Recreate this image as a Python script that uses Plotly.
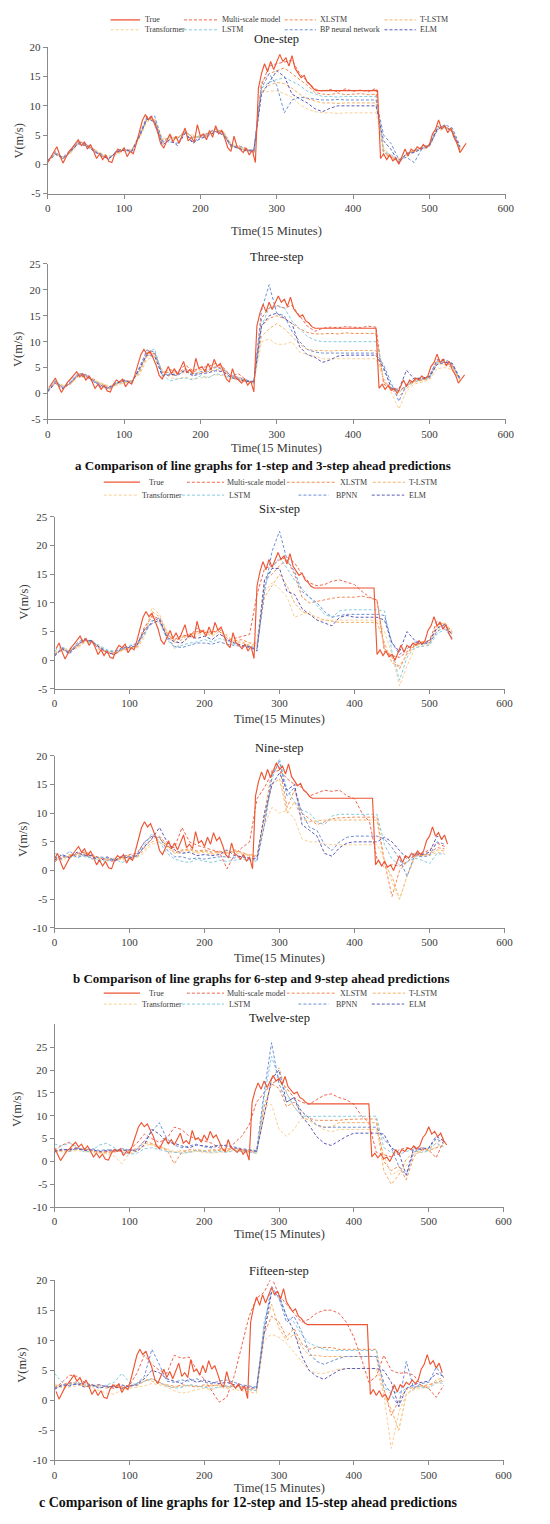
import plotly.graph_objects as go

W, H = 550, 1524
SERIF = "Liberation Serif"

# ---------------- data ----------------
SERIES_A = ["True", "Multi-scale model", "XLSTM", "T-LSTM",
            "Transformer", "LSTM", "BP neural network", "ELM"]
SERIES_BC = ["True", "Multi-scale model", "XLSTM", "T-LSTM",
             "Transformer", "LSTM", "BPNN", "ELM"]
PANEL_TITLES = ["One-step", "Three-step", "Six-step", "Nine-step", "Twelve-step", "Fifteen-step"]
CAPTIONS = ["a Comparison of line graphs for 1-step and 3-step ahead predictions",
            "b Comparison of line graphs for 6-step and 9-step ahead predictions",
            "c Comparison of line graphs for 12-step and 15-step ahead predictions"]
X_TITLE = "Time(15 Minutes)"
Y_TITLE = "V(m/s)"
X_TICKS = [0, 100, 200, 300, 400, 500, 600]
Y_TICKS = [[-5, 0, 5, 10, 15, 20],
           [-5, 0, 5, 10, 15, 20, 25],
           [-5, 0, 5, 10, 15, 20, 25],
           [-10, -5, 0, 5, 10, 15, 20],
           [-10, -5, 0, 5, 10, 15, 20, 25],
           [-10, -5, 0, 5, 10, 15, 20]]
Y_RANGES = [[-5, 20], [-5, 25], [-5, 25], [-10, 20], [-10, 30], [-10, 20]]

# true series (time index of the one-step panel, every 4 steps)
TRUE_T = list(range(0, 549, 4))
TRUE_V = [0.3, 1.2, 2.0, 3.0, 1.5, 0.2, 1.2, 2.2, 2.8, 3.5, 4.2, 3.2, 3.8, 2.6,
          3.4, 2.3, 1.0, 1.8, 0.8, 1.6, 0.5, 0.3, 1.8, 2.6, 2.2, 2.8, 1.3, 2.2,
          1.8, 3.5, 5.5, 7.5, 8.5, 7.6, 8.2, 7.0, 5.5, 3.5, 2.8, 4.0, 5.2, 3.8,
          4.8, 3.6, 5.0, 6.2, 4.0, 4.6, 3.8, 6.8, 4.8, 5.2, 4.2, 5.8, 4.6, 6.6,
          5.2, 5.8, 4.4, 2.8, 2.2, 4.8, 3.0, 2.6, 2.0, 2.8, 1.6, 2.4, 0.3, 13.0,
          15.5, 17.2, 15.8, 17.6, 16.2, 17.4, 18.8, 17.6, 18.2, 16.8, 18.6, 16.4, 15.6, 14.8,
          15.2, 14.0, 13.6, 12.9, 12.6,
          12.6, 12.6, 12.6, 12.6, 12.6, 12.6, 12.6, 12.6, 12.6, 12.6,
          12.6, 12.6, 12.6, 12.6, 12.6, 12.6, 12.6, 12.6, 12.6, 12.6,
          1.0, 1.8, 0.8, 1.6, 0.6, 1.0, 0.0, 1.4, 2.6, 1.4, 2.6, 2.2, 3.0, 2.6,
          3.4, 2.8, 3.4, 5.2, 6.0, 7.6, 6.0, 6.6, 5.4, 6.2, 4.6, 3.6, 2.0, 2.8, 3.6]
TRUE_SHIFT = [0, 2, 6, 8, 12, 14]
TRUE_END = [548, 546, 530, 527, 524, 521]

# predictions, every 10 steps
PRED_T = list(range(0, 541, 10))

P1_MULTI = [0.5,2.2,0.8,2.3,4.0,3.4,2.6,1.5,0.9,2.0,2.6,2.3,5.0,8.2,7.4,3.6,4.9,4.4,5.8,4.5,4.9,5.3,6.2,5.3,2.9,3.2,2.7,2.0,13.5,16.8,17.2,17.5,17.8,15.5,14.2,12.9,12.5,12.8,12.4,12.9,12.5,12.7,12.4,13.0,1.5,1.4,0.3,1.8,2.3,2.9,3.3,6.5,6.4,5.6,2.4]
P1_XLSTM = [0.4,2.0,0.9,2.2,3.8,3.5,2.4,1.6,1.0,1.9,2.5,2.4,4.8,7.9,7.6,3.9,4.6,4.5,5.6,4.6,4.7,5.4,6.0,5.5,3.1,3.0,2.6,2.1,14.0,15.5,16.0,16.5,15.5,14.5,13.5,12.3,12.0,11.9,12.2,11.9,12.0,12.1,11.9,12.0,2.0,1.2,0.5,1.6,2.4,2.8,3.4,6.2,6.5,5.8,2.6]
P1_TLSTM = [0.6,1.8,1.1,2.0,3.6,3.3,2.5,1.7,1.2,1.8,2.4,2.5,4.6,7.6,7.7,4.2,4.4,4.6,5.4,4.8,4.6,5.2,5.8,5.6,3.3,2.9,2.5,2.2,12.5,13.5,14.0,13.8,13.0,12.0,11.2,10.8,10.5,10.5,10.4,10.5,10.5,10.6,10.5,10.5,2.5,1.0,0.8,1.5,2.3,2.7,3.2,5.9,6.3,5.9,2.8]
P1_TRANSFORMER = [0.8,1.6,1.3,1.8,3.4,3.1,2.7,1.9,1.4,1.7,2.2,2.6,4.3,7.3,7.8,4.5,4.2,4.7,5.2,5.0,4.5,5.0,5.6,5.7,3.6,2.8,2.6,2.4,12.2,12.5,12.6,12.0,11.5,10.2,9.5,9.0,8.8,8.8,8.7,8.8,8.8,8.8,8.7,8.8,2.8,1.3,1.0,1.3,2.1,2.6,3.0,5.6,6.1,6.0,3.0]
P1_LSTM = [0.6,2.1,1.0,2.1,3.9,3.3,2.5,1.5,1.1,2.1,2.5,2.3,4.9,7.8,7.5,3.7,4.7,4.3,5.7,4.5,4.8,5.2,6.1,5.4,3.0,3.1,2.7,2.0,13.0,14.0,14.5,14.8,14.2,13.5,12.5,12.0,11.6,11.6,11.5,11.6,11.6,11.7,11.6,11.6,2.2,1.6,0.6,1.7,2.2,2.9,3.3,6.3,6.2,5.7,2.5]
P1_BP = [0.7,1.9,1.2,2.4,3.7,3.6,2.2,1.8,0.8,2.3,2.7,2.1,5.2,8.0,8.3,4.0,3.8,3.6,5.5,3.8,4.6,5.0,5.8,5.2,3.4,2.6,2.4,2.5,13.0,15.5,13.5,8.8,11.0,11.5,11.3,11.1,11.0,11.0,11.1,11.0,11.0,11.1,11.0,11.0,5.0,3.5,0.8,1.2,0.3,2.6,3.1,5.8,6.8,6.2,3.2]
P1_ELM = [0.4,1.7,1.0,2.2,3.5,3.2,2.3,1.4,1.0,2.1,2.4,2.2,4.7,7.7,7.3,3.3,4.2,3.2,5.3,3.6,4.4,4.8,5.6,5.0,3.2,2.7,2.3,2.3,12.0,14.0,16.0,15.0,12.0,11.2,10.5,9.5,9.0,9.6,10.0,10.0,10.0,10.0,10.0,10.0,4.0,2.5,0.2,1.9,2.0,2.7,3.2,6.0,6.6,5.5,2.9]

P2_MULTI = [0.4,2.4,1.0,2.0,3.8,3.6,2.8,1.6,0.8,1.8,2.6,2.2,4.6,8.0,7.6,4.0,4.6,4.2,5.5,4.4,5.0,5.2,5.8,5.0,3.4,3.8,2.6,2.0,14.5,16.5,17.0,16.5,17.0,15.0,13.0,12.0,12.6,12.8,12.7,12.9,12.8,12.7,13.0,12.8,1.8,1.0,0.5,1.6,2.6,2.8,3.2,6.6,6.4,5.4,2.6]
P2_XLSTM = [0.6,2.1,1.3,1.9,3.6,3.4,2.6,1.8,1.1,1.9,2.4,2.4,4.2,7.6,7.8,4.2,4.0,4.0,4.8,4.2,4.6,4.6,5.2,4.8,3.3,3.2,2.5,2.1,13.0,14.5,15.0,14.5,13.5,12.5,11.8,11.5,11.5,11.6,11.5,11.7,11.6,11.6,11.7,11.6,2.2,1.2,0.4,1.4,2.4,2.6,3.1,6.2,6.0,5.3,2.7]
P2_TLSTM = [0.8,1.9,1.5,1.8,3.4,3.2,2.7,1.9,1.3,1.7,2.2,2.5,3.9,7.2,7.6,4.4,3.4,3.6,4.2,3.8,4.0,4.2,4.6,4.4,3.2,2.9,2.4,2.2,11.0,12.5,13.5,12.5,11.0,9.5,8.5,8.3,8.3,8.2,8.3,8.3,8.2,8.3,8.3,8.3,2.8,0.8,-0.5,1.0,2.2,2.5,2.8,5.8,5.6,5.0,2.9]
P2_TRANSFORMER = [1.0,2.2,1.6,1.7,3.2,3.0,2.6,2.0,1.5,1.6,2.0,2.4,3.6,6.5,7.2,4.6,3.0,2.8,3.2,2.8,3.0,3.2,3.6,3.4,2.8,2.6,2.2,2.3,10.0,10.5,9.5,9.5,10.0,8.0,7.5,7.2,6.7,6.7,6.7,6.8,6.7,6.7,6.7,6.7,3.0,0.2,-3.0,0.5,1.8,2.2,2.6,4.8,5.0,4.6,2.6]
P2_LSTM = [0.7,2.6,1.2,2.2,3.7,3.5,2.4,1.7,1.0,2.0,2.3,2.3,4.4,7.9,8.6,3.8,2.4,2.8,3.0,2.6,3.4,3.0,3.8,3.6,3.0,2.8,2.4,2.0,13.0,16.5,16.8,16.5,14.0,12.5,11.0,10.3,10.0,10.0,10.0,10.0,10.0,10.0,10.0,10.0,4.5,1.5,0.2,1.5,2.3,2.7,3.0,6.0,6.2,5.6,2.4]
P2_BP = [0.5,2.3,1.1,2.4,3.9,3.7,2.2,1.5,0.9,2.2,2.6,2.0,5.0,8.4,8.0,3.6,3.8,3.4,4.6,3.6,4.2,4.4,5.0,4.6,3.5,3.0,2.6,2.2,16.0,21.0,15.5,15.0,12.0,10.0,8.5,8.0,7.8,7.8,7.7,7.8,7.8,7.8,7.7,7.8,5.5,2.0,-1.5,1.8,3.0,2.9,3.4,6.4,6.6,5.8,3.0]
P2_ELM = [0.3,2.0,0.9,2.1,3.5,3.3,2.5,1.3,1.2,2.0,2.5,2.1,4.8,7.4,7.2,3.4,3.6,3.8,4.4,3.4,3.8,4.0,4.4,4.2,3.1,2.7,2.3,2.4,13.0,15.0,15.5,14.5,13.5,9.0,7.5,7.0,6.0,6.5,7.2,7.4,7.4,7.4,7.5,7.4,5.0,1.0,0.8,4.5,2.8,3.0,3.2,5.6,6.0,5.8,2.8]

P3_MULTI = [0.8,2.0,1.4,2.6,3.6,3.2,1.8,1.5,0.9,1.9,1.8,2.6,5.8,7.6,6.8,4.2,3.6,4.4,4.2,5.6,4.8,5.0,5.0,3.4,3.8,4.2,4.5,11.5,16.0,16.5,17.5,18.0,17.0,15.0,13.5,13.0,13.2,13.8,14.0,13.6,13.2,12.0,11.0,10.5,1.5,0.8,0.5,1.5,2.8,3.0,3.5,6.8,6.2,4.5]
P3_XLSTM = [1.0,1.8,1.6,2.4,3.4,3.3,2.0,1.4,1.1,1.8,2.0,2.4,5.2,7.8,7.2,4.6,3.4,4.0,4.4,5.0,5.0,4.6,5.4,3.8,3.4,3.6,3.0,3.0,14.0,15.0,16.5,17.5,15.0,11.0,10.0,10.3,10.5,10.8,11.0,11.0,11.0,11.2,10.8,10.5,2.0,0.5,-1.5,1.2,2.6,3.2,3.2,6.2,6.4,4.8]
P3_TLSTM = [1.2,1.6,1.8,2.2,3.2,3.4,2.2,1.3,1.3,1.7,2.2,2.2,4.6,8.5,7.6,4.8,3.0,3.6,4.6,4.6,5.2,4.4,5.6,4.2,3.2,3.2,2.6,2.8,11.0,13.0,15.0,13.0,10.0,8.5,8.0,7.5,7.0,6.8,6.6,6.6,6.6,6.6,6.6,6.6,3.0,-0.5,-1.0,1.0,2.4,3.0,3.0,5.8,6.6,5.0]
P3_TRANSFORMER = [1.4,1.9,2.0,2.0,3.0,3.2,2.4,1.5,1.4,1.6,2.4,2.0,4.0,9.2,8.0,5.0,2.0,3.2,4.0,4.2,4.8,4.2,5.0,4.4,3.0,3.0,2.4,2.6,12.0,13.5,12.5,11.0,7.5,8.0,8.5,7.0,7.0,7.0,7.0,7.0,7.0,7.0,7.0,7.0,5.0,1.0,-4.5,-1.0,2.0,2.6,2.8,5.4,6.0,5.2]
P3_LSTM = [1.6,2.4,1.5,2.8,3.5,3.0,2.6,1.8,1.6,2.0,2.6,2.8,4.4,7.0,6.6,3.6,2.2,2.6,3.0,3.2,3.6,3.2,3.8,3.4,2.8,2.6,2.4,2.2,13.0,16.0,18.0,16.0,14.0,12.5,11.0,9.5,8.0,7.5,8.6,8.8,8.8,8.8,8.8,8.8,8.6,1.5,-3.5,0.5,2.2,2.4,2.6,4.6,5.4,4.0]
P3_BP = [0.9,2.2,1.3,3.0,3.8,3.1,2.4,1.6,1.4,2.2,2.4,3.0,4.8,6.8,7.4,3.8,2.4,2.2,2.6,3.0,3.0,2.8,3.2,2.8,2.6,2.4,2.2,2.0,12.0,19.0,22.5,17.5,15.5,12.0,11.0,10.0,8.5,7.5,7.8,8.0,8.0,8.0,8.0,8.0,7.8,3.0,1.0,2.0,3.2,2.8,3.0,5.0,5.8,3.8]
P3_ELM = [0.7,2.0,1.1,2.6,3.6,3.4,2.2,1.3,1.0,2.1,2.2,2.6,5.4,6.4,7.0,4.0,3.2,3.0,4.2,3.8,4.2,3.6,4.6,3.6,3.0,2.6,2.4,1.6,14.0,16.0,16.0,12.0,11.5,9.0,8.0,7.0,6.5,6.0,7.5,7.8,7.5,7.5,7.5,7.5,7.0,3.0,1.5,5.0,3.5,2.8,3.4,5.6,6.2,4.4]

P4_MULTI = [1.5,2.5,2.4,3.0,3.2,2.8,2.2,1.8,1.6,2.4,2.8,3.0,5.0,6.0,5.6,4.2,4.0,7.5,5.0,4.4,4.0,3.6,3.2,0.3,2.8,4.0,5.0,12.5,14.5,17.0,17.5,16.0,15.0,14.5,13.0,13.5,14.0,13.8,14.0,13.0,12.5,10.0,8.5,2.0,0.5,1.0,0.8,1.5,2.6,3.0,3.6,4.8,4.2]
P4_XLSTM = [1.8,2.2,2.6,2.8,3.0,2.6,2.0,2.0,1.8,2.2,2.6,2.6,4.0,5.5,6.0,4.4,3.0,3.6,3.8,3.4,3.6,3.2,3.4,3.0,3.6,3.2,2.6,2.4,10.0,17.5,18.0,11.0,14.0,10.0,9.0,8.0,8.5,9.0,9.2,9.3,9.3,9.3,9.3,9.3,1.5,-4.5,0.0,1.5,2.8,2.6,3.0,4.0,3.8]
P4_TLSTM = [2.0,2.0,2.8,2.6,2.8,2.5,2.1,1.9,2.0,2.0,2.4,2.4,3.6,5.0,5.4,4.6,3.2,3.4,3.6,3.2,3.4,3.0,3.2,3.2,3.4,3.0,2.8,2.6,9.0,15.0,16.0,10.0,12.0,9.0,8.5,8.7,8.8,8.8,8.8,8.8,8.8,8.8,8.8,8.8,1.0,-1.0,-5.0,-1.0,2.4,2.8,2.8,3.6,3.4]
P4_TRANSFORMER = [2.2,1.8,2.4,2.4,2.6,2.4,2.2,2.0,2.2,1.8,2.2,2.2,3.2,4.6,5.0,4.0,3.0,3.0,3.4,3.0,3.2,2.8,3.0,3.0,3.2,2.8,2.6,2.6,8.0,11.0,10.0,10.5,9.0,5.5,5.0,5.0,4.5,4.5,4.5,4.5,4.5,4.5,4.5,4.5,2.0,-2.0,-5.0,-1.0,2.0,2.6,2.6,3.2,3.0]
P4_LSTM = [3.0,2.6,2.2,2.6,2.4,2.2,1.8,1.6,2.0,1.4,2.0,2.4,4.5,6.5,5.0,3.0,2.0,1.6,1.4,2.0,1.6,1.4,1.8,1.6,1.8,2.0,1.8,1.6,8.0,16.0,19.5,14.0,12.0,10.5,10.0,8.5,8.0,9.5,9.8,9.8,9.8,9.8,9.8,9.8,4.5,2.0,1.0,1.5,2.2,1.8,1.2,3.0,2.8]
P4_BP = [2.4,2.0,3.4,2.2,2.8,2.0,2.4,2.2,1.6,2.6,2.4,2.8,5.0,6.0,5.8,3.6,2.4,2.4,2.0,2.2,2.0,2.2,2.4,2.4,2.2,2.6,2.2,1.8,8.0,16.5,19.0,13.0,14.5,10.0,7.5,7.0,4.5,3.5,5.0,5.8,6.0,6.0,6.0,6.0,5.5,4.0,2.0,-1.0,2.6,2.4,2.6,5.0,4.6]
P4_ELM = [1.8,2.8,2.2,3.2,2.6,2.6,1.6,2.4,1.8,2.4,2.2,2.6,4.2,5.6,7.5,5.0,3.6,3.0,3.2,2.6,2.8,2.6,2.8,3.6,2.6,2.4,2.0,2.2,10.0,15.0,17.0,14.0,15.0,8.0,7.0,6.0,3.0,2.5,4.0,4.8,5.0,5.0,5.0,5.0,5.8,5.0,3.5,2.0,3.0,2.8,3.2,6.0,5.4]

P5_MULTI = [2.4,3.6,4.2,2.8,2.6,2.4,2.0,2.2,2.4,2.2,2.6,4.0,6.0,5.0,4.2,5.0,7.5,7.0,5.5,5.0,4.5,4.0,3.0,2.0,4.0,5.5,8.0,13.0,15.0,17.0,18.0,16.0,14.0,13.0,12.5,13.5,14.5,14.8,14.0,13.5,12.5,10.0,8.5,2.0,1.5,1.0,2.5,3.0,2.5,3.0,2.5,0.8,4.5]
P5_XLSTM = [2.2,2.4,2.8,3.0,2.6,2.2,2.0,2.0,2.2,2.4,2.4,2.8,4.5,4.0,3.4,2.6,-0.5,2.0,2.6,2.4,2.2,2.6,2.4,2.8,2.6,2.4,2.2,2.0,12.0,17.0,16.0,12.0,13.0,11.0,9.5,9.0,9.0,9.0,9.0,9.2,9.3,9.3,9.3,9.3,0.0,-2.0,-1.0,-4.0,1.0,2.6,2.4,3.0,3.6]
P5_TLSTM = [2.6,2.2,2.4,2.6,2.8,2.4,2.2,1.8,2.0,2.6,2.2,2.4,4.0,3.6,3.0,2.4,2.0,2.4,2.2,2.6,2.4,2.2,2.6,2.4,2.8,2.6,2.4,2.2,10.0,18.0,20.5,15.0,12.0,10.0,9.0,8.0,7.5,7.5,8.5,8.5,8.5,8.5,8.5,8.5,-2.0,-5.0,-3.0,0.5,2.0,2.4,2.8,4.0,5.0]
P5_TRANSFORMER = [2.8,2.0,2.2,2.4,2.2,2.0,1.8,1.6,1.2,-0.5,1.8,2.2,3.4,3.8,3.2,2.8,2.2,1.8,2.0,2.2,2.0,1.8,2.0,2.2,2.4,2.2,2.0,1.8,12.0,12.5,7.0,5.5,7.0,9.5,9.0,8.0,7.0,6.5,7.0,7.0,7.0,7.0,7.0,7.0,1.5,-3.0,-2.0,-1.0,1.6,2.0,2.2,3.2,4.0]
P5_LSTM = [3.8,3.4,4.0,3.2,2.0,2.4,3.6,4.0,3.0,2.0,1.6,1.8,2.8,3.0,2.6,2.2,2.0,1.8,2.0,2.4,2.2,2.0,2.2,2.0,2.4,2.2,2.0,1.8,14.0,23.0,18.0,15.0,12.0,10.0,9.8,9.9,9.9,9.9,9.9,9.9,9.9,9.9,9.9,9.9,3.0,2.0,1.5,2.2,2.6,2.0,2.4,4.0,3.2]
P5_BP = [2.0,2.8,2.2,3.0,2.6,2.8,2.4,2.6,2.2,2.8,2.4,2.6,4.5,6.5,8.5,5.0,3.6,3.0,3.4,3.8,3.2,3.0,3.4,3.6,3.2,2.8,2.6,2.4,15.0,26.0,17.0,13.0,14.0,11.0,9.5,8.0,7.5,7.5,7.5,7.5,7.5,7.5,7.5,7.5,5.0,3.0,-1.0,-3.0,2.0,3.0,2.8,5.0,4.0]
P5_ELM = [2.2,2.6,2.6,2.8,2.4,2.6,2.2,2.4,2.6,2.4,2.6,2.2,3.6,7.0,6.0,4.2,4.0,3.4,3.0,3.6,3.4,3.2,3.6,3.4,3.0,2.6,2.4,2.2,10.0,18.0,20.0,13.0,14.0,10.0,8.0,5.5,4.0,3.5,4.5,5.5,6.2,6.2,6.2,6.2,6.0,3.0,2.0,-3.0,3.0,2.6,3.0,5.5,4.5]

P6_MULTI = [2.0,3.0,4.2,4.0,3.0,2.5,2.6,2.2,2.0,2.4,2.5,4.5,7.5,6.0,5.0,4.5,7.5,7.0,7.2,5.0,3.5,1.5,-0.3,0.5,4.0,9.0,14.0,17.0,18.0,20.5,17.5,16.0,14.5,13.0,13.5,14.5,15.0,15.0,14.5,13.0,10.5,7.0,3.0,4.0,7.5,5.0,4.5,4.6,4.2,2.5,2.0,0.5,2.5]
P6_XLSTM = [2.2,2.6,3.0,2.8,2.4,2.2,2.6,2.2,2.4,2.0,2.6,2.4,3.2,3.6,3.0,2.4,2.2,2.6,2.4,2.2,2.6,2.4,2.6,2.2,2.4,2.2,2.0,1.8,11.0,14.0,13.0,10.5,12.0,9.5,8.5,8.8,8.8,8.8,8.5,8.5,8.5,8.5,8.5,8.5,2.0,-2.5,0.0,1.8,2.2,2.4,2.6,3.0,3.4]
P6_TLSTM = [2.6,2.2,2.6,3.2,2.2,2.6,2.2,2.0,2.6,2.2,2.2,2.8,3.6,3.2,2.8,2.6,2.4,2.2,2.6,2.4,2.2,2.6,2.4,2.4,2.2,2.0,1.8,1.6,12.0,16.0,12.0,10.0,11.0,9.0,7.5,7.5,7.3,7.3,7.3,7.3,7.3,7.3,7.3,7.3,1.0,-1.5,-5.0,1.0,2.0,2.4,2.2,3.4,3.8]
P6_TRANSFORMER = [2.8,2.0,2.2,2.4,2.6,2.2,1.6,1.2,1.0,1.8,2.0,2.2,2.4,2.8,2.6,2.2,1.6,1.2,1.4,1.8,2.0,1.8,2.2,2.0,1.8,1.6,1.4,1.2,10.0,11.0,10.5,9.5,8.0,6.5,5.0,4.5,4.5,4.8,5.2,5.3,5.3,5.3,5.3,5.3,1.0,-8.0,-2.0,1.0,1.8,2.0,2.2,2.8,3.2]
P6_LSTM = [4.5,3.0,2.4,3.0,2.6,2.4,2.2,2.6,3.0,4.5,3.0,2.6,3.2,3.6,3.0,2.4,2.0,2.2,2.6,2.4,2.2,2.0,2.2,2.4,2.2,2.0,1.8,1.6,13.0,18.0,17.0,14.0,13.0,11.0,9.5,9.0,8.5,8.3,8.3,8.3,8.3,8.3,8.3,8.3,2.0,1.5,1.2,2.0,2.4,2.2,2.0,3.0,2.8]
P6_BP = [2.0,2.4,2.8,2.6,3.0,2.4,2.6,2.2,2.4,2.6,2.2,2.8,4.0,8.5,6.0,3.2,3.0,3.4,3.2,3.6,3.0,2.8,3.2,3.4,3.0,2.6,2.4,2.2,12.0,19.0,17.0,13.0,14.0,11.5,8.0,6.5,6.0,6.5,7.0,7.3,7.3,7.3,7.3,7.3,3.0,1.0,-1.0,6.5,2.0,2.8,3.0,5.5,3.8]
P6_ELM = [1.8,2.6,2.4,2.8,2.2,2.6,2.0,2.4,2.2,2.0,2.4,2.6,3.6,5.0,4.6,3.6,3.2,2.8,3.6,3.0,3.4,3.0,2.8,3.0,2.6,2.4,2.2,2.0,11.0,18.0,17.5,14.0,11.5,7.5,5.0,4.0,3.5,4.3,5.0,5.3,5.3,5.3,5.3,5.3,5.0,3.0,-1.0,2.0,2.6,3.0,3.2,4.5,4.0]

PREDICTIONS = [
    [P1_MULTI, P1_XLSTM, P1_TLSTM, P1_TRANSFORMER, P1_LSTM, P1_BP, P1_ELM],
    [P2_MULTI, P2_XLSTM, P2_TLSTM, P2_TRANSFORMER, P2_LSTM, P2_BP, P2_ELM],
    [P3_MULTI, P3_XLSTM, P3_TLSTM, P3_TRANSFORMER, P3_LSTM, P3_BP, P3_ELM],
    [P4_MULTI, P4_XLSTM, P4_TLSTM, P4_TRANSFORMER, P4_LSTM, P4_BP, P4_ELM],
    [P5_MULTI, P5_XLSTM, P5_TLSTM, P5_TRANSFORMER, P5_LSTM, P5_BP, P5_ELM],
    [P6_MULTI, P6_XLSTM, P6_TLSTM, P6_TRANSFORMER, P6_LSTM, P6_BP, P6_ELM],
]

# ---------------- styles / layout geometry (pixels) ----------------
COLORS = ["#EE5533", "#F0644E", "#F48A50", "#F7B064", "#F9CF94", "#86CCDF", "#6E8FD6", "#5A5AB8"]
DASH = "3px,2px"
AXC = "#8a8a8a"
TXT = "#3a3a3a"

# x0, x1, y_top, y_bottom of each plot area
PANELS = [(45.7, 514.0, 41.7, 189.0),
          (45.7, 514.0, 260.0, 416.7),
          (52.7, 512.7, 515.0, 688.3),
          (52.7, 512.7, 755.7, 929.3),
          (52.7, 511.7, 1026.5, 1210.7),
          (52.7, 511.7, 1284.3, 1466.0)]
TITLE_Y = [33, 253, 507, 748, 1020, 1275]
XTITLE_Y = [227, 446, 719, 960, 1238, 1494]
YTITLE_POS = [(16, 136), (16, 346), (22, 601), (21, 840), (15, 1112), (20, 1370)]
CAPTION_POS = [(266, 463, 13), (264, 980, 13), (251, 1508, 14)]

def fx(px):
    return px / W

def fy(py):
    return 1 - py / H

fig = go.Figure()
layout = dict(width=W, height=H, autosize=False,
              margin=dict(l=0, r=0, t=0, b=0),
              paper_bgcolor="white", plot_bgcolor="white",
              showlegend=False, font=dict(family=SERIF, color=TXT))
annotations = []
shapes = []

for i in range(6):
    sfx = "" if i == 0 else str(i + 1)
    x0, x1, yt, yb = PANELS[i]
    for k, vals in enumerate(PREDICTIONS[i]):
        fig.add_trace(go.Scatter(
            x=PRED_T[:len(vals)], y=vals, mode="lines",
            line=dict(color=COLORS[k + 1], width=1.0, dash=DASH),
            xaxis="x" + sfx, yaxis="y" + sfx, hoverinfo="skip"))
    tx, ty = [], []
    for t, v in zip(TRUE_T, TRUE_V):
        x = t - TRUE_SHIFT[i]
        if 0 <= x <= TRUE_END[i]:
            tx.append(x)
            ty.append(v)
    fig.add_trace(go.Scatter(
        x=tx, y=ty, mode="lines",
        line=dict(color=COLORS[0], width=1.15),
        xaxis="x" + sfx, yaxis="y" + sfx, hoverinfo="skip"))

    common = dict(showline=True, linecolor=AXC, linewidth=1, ticks="outside",
                  ticklen=4, tickcolor=AXC, tickwidth=1, showgrid=False,
                  zeroline=False, fixedrange=True,
                  tickfont=dict(family=SERIF, size=11, color=TXT))
    layout["xaxis" + sfx] = dict(domain=[fx(x0), fx(x1)], range=[0, 600],
                                 anchor="y" + sfx, tickvals=X_TICKS,
                                 ticktext=[str(v) for v in X_TICKS], **common)
    layout["yaxis" + sfx] = dict(domain=[fy(yb), fy(yt)], range=Y_RANGES[i],
                                 anchor="x" + sfx, tickvals=Y_TICKS[i],
                                 ticktext=[str(v) for v in Y_TICKS[i]], **common)
    cx = (x0 + x1) / 2
    annotations.append(dict(text=PANEL_TITLES[i], x=fx(cx), y=fy(TITLE_Y[i]),
                            xref="paper", yref="paper", showarrow=False,
                            xanchor="center", yanchor="middle",
                            font=dict(family=SERIF, size=12.5, color="#222")))
    annotations.append(dict(text=X_TITLE, x=fx(cx), y=fy(XTITLE_Y[i]),
                            xref="paper", yref="paper", showarrow=False,
                            xanchor="center", yanchor="middle",
                            font=dict(family=SERIF, size=12.5, color=TXT)))
    yx, yy = YTITLE_POS[i]
    annotations.append(dict(text=Y_TITLE, x=fx(yx), y=fy(yy), textangle=-90,
                            xref="paper", yref="paper", showarrow=False,
                            xanchor="center", yanchor="middle",
                            font=dict(family=SERIF, size=12.5, color=TXT)))

for (cx, cy, fs), cap in zip(CAPTION_POS, CAPTIONS):
    annotations.append(dict(text="<b>" + cap + "</b>", x=fx(cx), y=fy(cy),
                            xref="paper", yref="paper", showarrow=False,
                            xanchor="center", yanchor="middle",
                            font=dict(family=SERIF, size=fs, color="#111")))

# legends (manual, 4 columns x 2 rows)
LEG_A = dict(rows=[14, 24],
             lines=[[(110, 140), (185, 220), (288, 320), (390, 422)],
                    [(110, 140), (185, 220), (288, 320), (390, 422)]],
             texts=[[143, 222, 322, 424], [143, 222, 322, 424]])
LEG_BC_LINES = [[(103, 140), (188, 226), (290, 339), (378, 411)],
                [(103, 137), (183, 226), (302, 333), (377, 410)]]
LEG_BC_TEXTS = [[147, 227, 342, 413], [140, 229, 338, 413]]
LEGENDS = [(LEG_A, SERIES_A),
           (dict(rows=[480, 493], lines=LEG_BC_LINES, texts=LEG_BC_TEXTS), SERIES_BC),
           (dict(rows=[995, 1006], lines=LEG_BC_LINES, texts=LEG_BC_TEXTS), SERIES_BC)]

for leg, names in LEGENDS:
    for idx, name in enumerate(names):
        r, c = divmod(idx, 4)
        ly = leg["rows"][r]
        lx0, lx1 = leg["lines"][r][c]
        shapes.append(dict(type="line", xref="paper", yref="paper",
                           x0=fx(lx0), x1=fx(lx1), y0=fy(ly), y1=fy(ly),
                           line=dict(color=COLORS[idx], width=1.3 if idx == 0 else 1.0,
                                     dash="solid" if idx == 0 else DASH)))
        annotations.append(dict(text=name, x=fx(leg["texts"][r][c]), y=fy(ly),
                                xref="paper", yref="paper", showarrow=False,
                                xanchor="left", yanchor="middle",
                                font=dict(family=SERIF, size=8, color=TXT)))

layout["annotations"] = annotations
layout["shapes"] = shapes
fig.update_layout(**layout)
fig.write_html("out.html")
